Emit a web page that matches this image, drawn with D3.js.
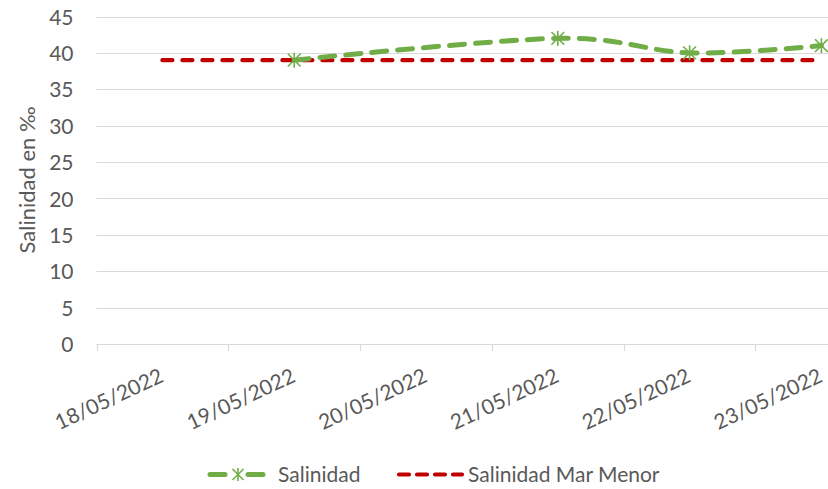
<!DOCTYPE html>
<html>
<head>
<meta charset="utf-8">
<script src="https://cdn.jsdelivr.net/npm/d3@7"></script>
<style>
  html, body { margin: 0; padding: 0; background: #fff; }
  svg { display: block; }
  text { font-family: Lato, "Open Sans", sans-serif; fill: #595959; }
</style>
</head>
<body>
<svg id="chart" width="828" height="489"></svg>
<script>
// Fechas de muestreo
const categories = ["18/05/2022", "19/05/2022", "20/05/2022", "21/05/2022", "22/05/2022", "23/05/2022"];
// Salinidad medida (‰); null = sin medición
const salinidad = [null, 39, null, 42, 40, 41];
// Referencia de salinidad del Mar Menor (‰)
const marMenor = [39, 39, 39, 39, 39, 39];
const yTicks = [0, 5, 10, 15, 20, 25, 30, 35, 40, 45];
const seriesNames = ["Salinidad", "Salinidad Mar Menor"];

const svg = d3.select("#chart");
const W = 828, H = 489;
const plotLeft = 96.5, plotTop = 16.5, plotBottom = 344, plotRight = 887.3;
const fs = "21px";

const x = d3.scaleBand().domain(categories).range([plotLeft, plotRight]).padding(0);
const y = d3.scaleLinear().domain([0, 45]).range([plotBottom, plotTop]);
const cx = d => x(d) + x.bandwidth() / 2;

const green = "#70ad47", red = "#c00000", grid = "#d9d9d9";

// Líneas de cuadrícula horizontales
svg.append("g")
  .selectAll("line")
  .data(yTicks)
  .join("line")
  .attr("x1", plotLeft).attr("x2", W)
  .attr("y1", d => Math.round(y(d)) + 0.5).attr("y2", d => Math.round(y(d)) + 0.5)
  .attr("stroke", grid).attr("stroke-width", 1.2);

// Eje Y
const yAxis = svg.append("g")
  .attr("transform", `translate(${plotLeft},0)`)
  .call(d3.axisLeft(y).tickValues(yTicks).tickSize(0).tickPadding(23));
yAxis.select(".domain").remove();
yAxis.selectAll("text")
  .style("font-size", fs)
  .attr("fill", "#595959")
  .attr("dy", "0.36em");

// Marcas del eje X entre categorías
svg.append("g")
  .selectAll("line")
  .data(categories)
  .join("line")
  .attr("x1", d => Math.round(x(d)) + 0.5).attr("x2", d => Math.round(x(d)) + 0.5)
  .attr("y1", plotBottom).attr("y2", plotBottom + 7)
  .attr("stroke", grid).attr("stroke-width", 1.2);

// Etiquetas del eje X giradas
svg.append("g")
  .selectAll("text")
  .data(categories)
  .join("text")
  .attr("text-anchor", "end")
  .attr("transform", d => `translate(${cx(d) + 2.5},${381}) rotate(-25)`)
  .style("font-size", fs)
  .text(d => d);

// Título del eje Y
svg.append("text")
  .attr("transform", `translate(35,180) rotate(-90)`)
  .attr("text-anchor", "middle")
  .style("font-size", "22px")
  .text("Salinidad en ‰");

// Línea de referencia Mar Menor
const lineRef = d3.line()
  .x((d, i) => cx(categories[i]))
  .y(d => y(d));
svg.append("path")
  .attr("d", lineRef(marMenor))
  .attr("fill", "none")
  .attr("stroke", red)
  .attr("stroke-width", 4.2)
  .attr("stroke-linecap", "round")
  .attr("stroke-dasharray", "10 10");

// Serie de salinidad medida (suavizada, uniendo huecos)
const pts = categories
  .map((c, i) => ({ c, v: salinidad[i] }))
  .filter(d => d.v !== null);
const lineSal = d3.line()
  .x(d => cx(d.c))
  .y(d => y(d.v))
  .curve(d3.curveCardinal.tension(0));
svg.append("path")
  .attr("d", lineSal(pts))
  .attr("fill", "none")
  .attr("stroke", green)
  .attr("stroke-width", 5)
  .attr("stroke-linecap", "round")
  .attr("stroke-dasharray", "15 11");

// Marcador tipo estrella
function star(g, px, py, r) {
  const s = g.append("g").attr("transform", `translate(${px},${py})`)
    .attr("stroke", green).attr("stroke-width", 1.6).attr("fill", "none");
  s.append("line").attr("x1", 0).attr("x2", 0).attr("y1", -r).attr("y2", r);
  s.append("line").attr("x1", -r * 0.85).attr("x2", r * 0.85).attr("y1", -r * 0.85).attr("y2", r * 0.85);
  s.append("line").attr("x1", -r * 0.85).attr("x2", r * 0.85).attr("y1", r * 0.85).attr("y2", -r * 0.85);
}
const mk = svg.append("g");
pts.forEach(d => star(mk, cx(d.c), y(d.v), 7.5));

// Leyenda
const lg = svg.append("g");
const ly = 474.5;
lg.append("line")
  .attr("x1", 210).attr("x2", 266).attr("y1", ly).attr("y2", ly)
  .attr("stroke", green).attr("stroke-width", 5)
  .attr("stroke-linecap", "round").attr("stroke-dasharray", "15 23");
star(lg, 238, ly, 6.5);
lg.append("text").attr("x", 278).attr("y", ly + 7.5).style("font-size", fs).text(seriesNames[0]);
lg.append("line")
  .attr("x1", 399).attr("x2", 462).attr("y1", ly).attr("y2", ly)
  .attr("stroke", red).attr("stroke-width", 4.2)
  .attr("stroke-linecap", "round").attr("stroke-dasharray", "10 8");
lg.append("text").attr("x", 468).attr("y", ly + 7.5).style("font-size", fs).text(seriesNames[1]);
</script>
</body>
</html>
